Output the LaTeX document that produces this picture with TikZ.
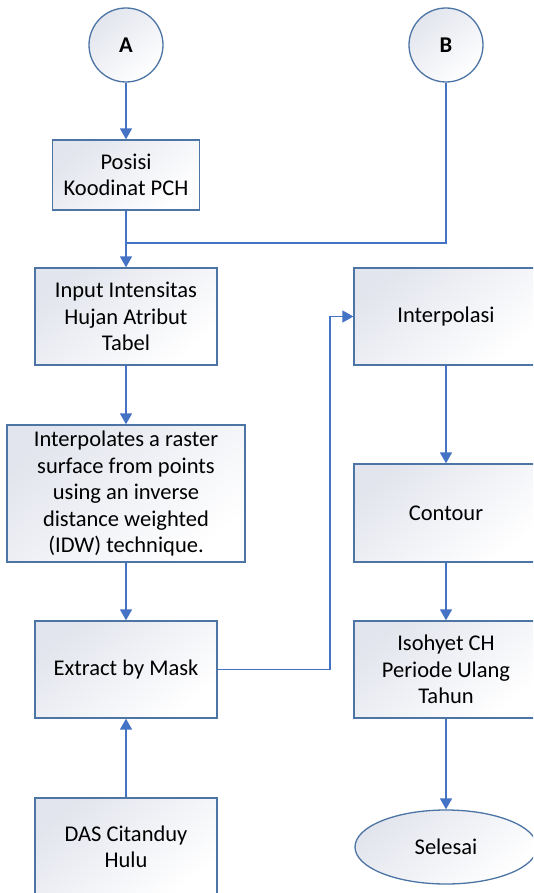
\documentclass[tikz,border=0pt]{standalone}
\usepackage{fontspec}
\setmainfont{Carlito}
\usetikzlibrary{arrows.meta,shapes.geometric,calc}
\definecolor{edgeblue}{RGB}{68,114,196}
\definecolor{boxline}{RGB}{76,116,164}
\definecolor{shadetop}{RGB}{226,229,237}
\begin{document}
\begin{tikzpicture}[x=1pt,y=1pt,
  every node/.style={font=\fontsize{22.5}{26.5}\selectfont, align=center, inner sep=0pt},
  procbox/.style={rectangle, draw=boxline, line width=1.3pt,
    top color=shadetop, bottom color=white, shading angle=40},
  conn/.style={circle, draw=boxline, line width=1.3pt, minimum size=74pt,
    top color=shadetop, bottom color=white, shading angle=40, font=\fontsize{22.5}{26}\selectfont\bfseries},
  term/.style={ellipse, draw=boxline, line width=1.3pt, minimum width=182pt, minimum height=74pt,
    top color=shadetop, bottom color=white, shading angle=40},
  flow/.style={draw=edgeblue, line width=1.6pt},
  arr/.style={flow, -{Triangle[length=11pt,width=12pt]}}
]
\useasboundingbox (0,0) rectangle (533,-893);
\clip (0,0) rectangle (533,-893);
\fill[white] (0,0) rectangle (533,-893);

\node[conn] (A) at (126,-45) {A};
\node[conn] (B) at (446,-45) {B};

\node[procbox, minimum width=147pt, minimum height=70pt] (pos) at (126,-175) {Posisi\\Koodinat PCH};
\node[procbox, minimum width=182pt, minimum height=97pt] (inp) at (126,-316.5) {Input Intensitas\\Hujan Atribut\\Tabel};
\node[procbox, minimum width=238pt, minimum height=137pt] (idw) at (126,-493.5) {Interpolates a raster\\surface from points\\using an inverse\\distance weighted\\(IDW) technique.};
\node[procbox, minimum width=182pt, minimum height=97pt] (ext) at (126,-669.5) {Extract by Mask};
\node[procbox, minimum width=182pt, minimum height=98pt] (das) at (126,-847) {DAS Citanduy\\Hulu};

\node[procbox, minimum width=184pt, minimum height=97pt] (intp) at (446,-316.5) {Interpolasi};
\node[procbox, minimum width=184pt, minimum height=98pt] (cont) at (446,-513) {Contour};
\node[procbox, minimum width=184pt, minimum height=97pt] (iso) at (446,-669.5) {Isohyet CH\\Periode Ulang\\Tahun};
\node[term] (sel) at (446,-847) {Selesai};

\coordinate (j) at (126,-243);
\coordinate (k) at (330,0);

\draw[arr] (A) -- (pos);
\draw[arr] (pos) -- (inp);
\draw[flow] (B.south) |- (j);
\draw[arr] (inp) -- (idw);
\draw[arr] (idw) -- (ext);
\draw[arr] (das) -- (ext);
\draw[arr] (ext.east) -| (k |- intp.west) -- (intp.west);
\draw[arr] (intp) -- (cont);
\draw[arr] (cont) -- (iso);
\draw[arr] (iso) -- (sel);
\end{tikzpicture}
\end{document}
